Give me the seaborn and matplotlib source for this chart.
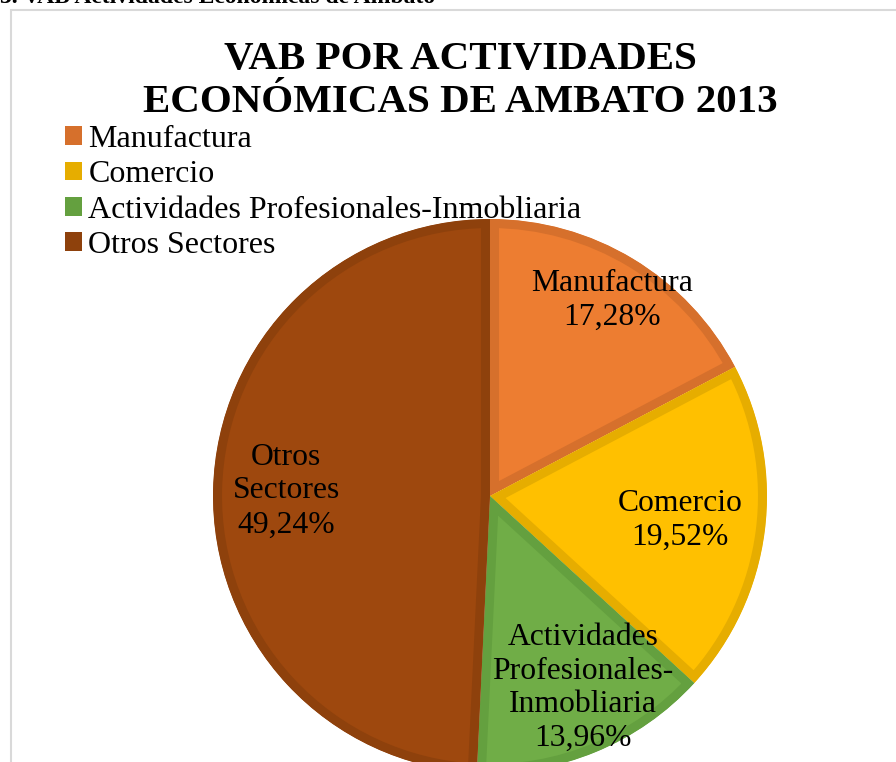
import matplotlib
matplotlib.use("Agg")
import matplotlib.pyplot as plt
from matplotlib.patches import Rectangle
import seaborn as sns

categories = ["Manufactura", "Comercio", "Actividades Profesionales-Inmobliaria", "Otros Sectores"]
slice_labels = ["Manufactura", "Comercio", "Actividades\nProfesionales-\nInmobliaria", "Otros\nSectores"]
values = [17.28, 19.52, 13.96, 49.24]
value_labels = ["17,28%", "19,52%", "13,96%", "49,24%"]
title = "VAB POR ACTIVIDADES\nECONÓMICAS DE AMBATO 2013"
caption = "3. VAB Actividades Económicas de Ambato"

face_colors = ["#ED7D31", "#FFC000", "#70AD47", "#9E480E"]
edge_colors = ["#D6702C", "#E6AD00", "#64A03F", "#8E410C"]

sns.set_theme(style="white")
plt.rcParams["font.family"] = ["Liberation Serif", "DejaVu Serif"]
plt.rcParams["text.color"] = "black"

W, H = 896, 762
fig = plt.figure(figsize=(W / 100, H / 100), dpi=100)
fig.patch.set_facecolor("white")

# outer chart frame
fig.patches.append(Rectangle((11 / W, -0.1), 1.2, 1 - 10 / H + 0.1, transform=fig.transFigure,
                             fill=False, edgecolor="#D9D9D9", linewidth=1.5))

# caption (cut off at top)
fig.text(0.0, 1 - 3 / H, caption, ha="left", va="baseline", fontsize=17,
         fontweight="bold", color="black")

cx, cy, R = 490, 496, 277
ax = fig.add_axes([(cx - R) / W, (H - cy - R) / H, 2 * R / W, 2 * R / H])
wedges, _ = ax.pie(values, startangle=90, counterclock=False, radius=1.0,
                   colors=face_colors)
for w, ec in zip(wedges, edge_colors):
    w.set_edgecolor(ec)
    w.set_linewidth(13)
    w.set_clip_on(True)
    w.set_clip_path(w)
ax.set_xlim(-1, 1)
ax.set_ylim(-1, 1)
ax.set_aspect("equal")
ax.axis("off")

label_pos = [(612, 300), (680, 520), (583, 688), (286, 491)]
for (px, py), name, val in zip(label_pos, slice_labels, value_labels):
    ax.text((px - cx) / R, (cy - py) / R, f"{name}\n{val}", ha="center", va="center",
            fontsize=22.8, color="black", linespacing=1.22)

fig.text(460 / W, 1 - 81 / H, title, ha="center", va="center", fontsize=29.5,
         fontweight="bold", color="black", linespacing=1.22)

leg = fig.legend(wedges, categories, loc="upper left", bbox_to_anchor=(65 / W, 1 - 125 / H),
                 frameon=False, fontsize=23, handlelength=0.53, handleheight=0.53,
                 handletextpad=0.2, labelspacing=0.2, borderpad=0, borderaxespad=0)
for h, ec in zip(leg.legend_handles, edge_colors):
    h.set_facecolor(ec)
    h.set_edgecolor(ec)
    h.set_linewidth(0)

fig.savefig("out.png", dpi=100)
